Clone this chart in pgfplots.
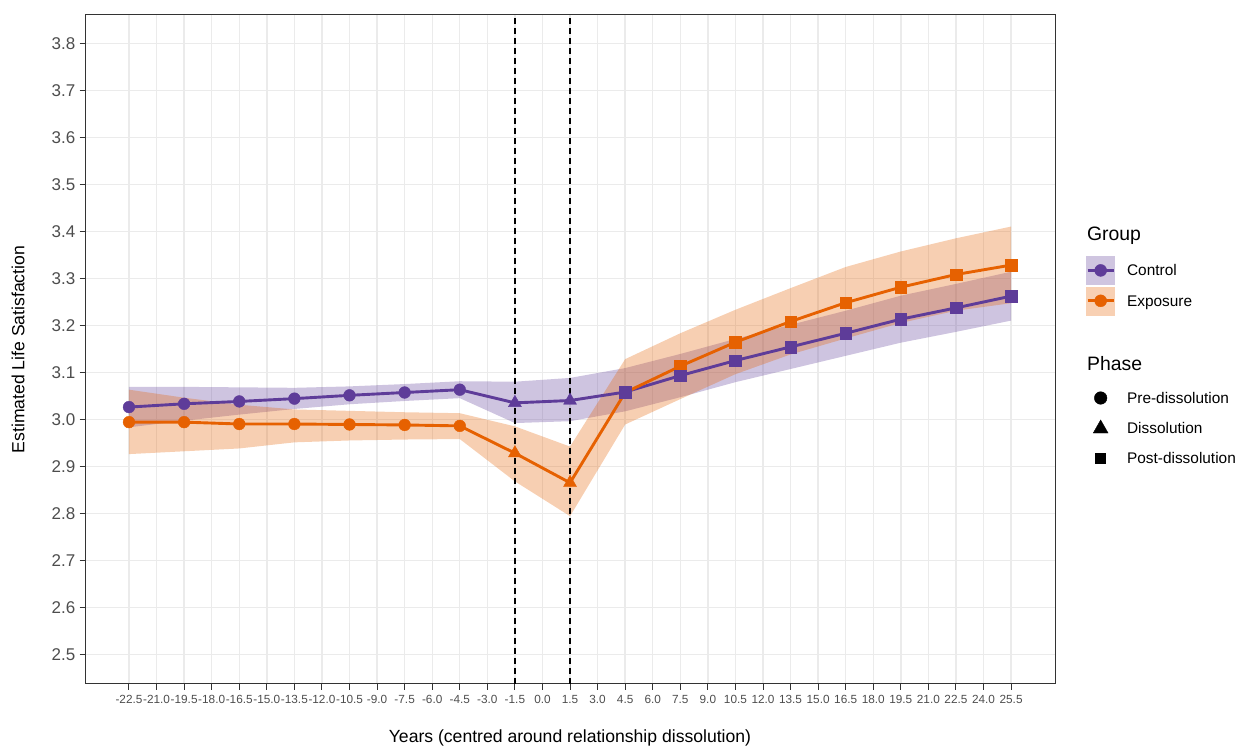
\documentclass[border=0pt]{standalone}
\usepackage{fontspec}
\setmainfont{Liberation Sans}
\usepackage{pgfplots}
\pgfplotsset{compat=1.18}
\usepackage{pgfplotstable}
\usepgfplotslibrary{fillbetween}
\definecolor{ctrl}{HTML}{5E3C99}
\definecolor{expo}{HTML}{E66101}
\definecolor{gridc}{HTML}{EBEBEB}
\definecolor{axc}{HTML}{333333}
\definecolor{tickc}{HTML}{4D4D4D}

\pgfplotstableread{
x     ctrl  clo   chi   expo  elo   ehi
-22.5 3.026 2.983 3.069 2.994 2.926 3.063
-19.5 3.033 2.997 3.069 2.994 2.932 3.046
-16.5 3.038 3.010 3.068 2.990 2.938 3.031
-13.5 3.044 3.022 3.067 2.990 2.951 3.021
-10.5 3.051 3.032 3.070 2.989 2.955 3.018
-7.5  3.057 3.039 3.075 2.988 2.957 3.015
-4.5  3.063 3.045 3.081 2.986 2.958 3.013
-1.5  3.035 2.992 3.080 2.928 2.868 2.985
1.5   3.040 2.996 3.088 2.865 2.794 2.942
4.5   3.058 3.017 3.109 3.057 2.989 3.128
7.5   3.093 3.047 3.139 3.113 3.043 3.183
10.5  3.125 3.079 3.171 3.164 3.096 3.233
13.5  3.154 3.107 3.201 3.208 3.138 3.279
16.5  3.183 3.135 3.231 3.248 3.172 3.324
19.5  3.213 3.163 3.263 3.281 3.205 3.357
22.5  3.237 3.186 3.288 3.308 3.231 3.385
25.5  3.262 3.210 3.314 3.328 3.247 3.410
}\datatable

\begin{document}
\begin{tikzpicture}[x=1pt,y=1pt]
\begin{axis}[
  at={(85pt,63pt)}, anchor=south west,
  width=970pt, height=669pt, scale only axis,
  xmin=-24.894, xmax=27.89, ymin=2.437, ymax=3.86,
  xtick={-22.5,-21,-19.5,-18,-16.5,-15,-13.5,-12,-10.5,-9,-7.5,-6,-4.5,-3,-1.5,0,1.5,3,4.5,6,7.5,9,10.5,12,13.5,15,16.5,18,19.5,21,22.5,24,25.5},
  xticklabels={-22.5,-21.0,-19.5,-18.0,-16.5,-15.0,-13.5,-12.0,-10.5,-9.0,-7.5,-6.0,-4.5,-3.0,-1.5,0.0,1.5,3.0,4.5,6.0,7.5,9.0,10.5,12.0,13.5,15.0,16.5,18.0,19.5,21.0,22.5,24.0,25.5},
  ytick={2.5,2.6,2.7,2.8,2.9,3.0,3.1,3.2,3.3,3.4,3.5,3.6,3.7,3.8},
  yticklabels={2.5,2.6,2.7,2.8,2.9,3.0,3.1,3.2,3.3,3.4,3.5,3.6,3.7,3.8},
  xtick pos=bottom, ytick pos=left,
  tick align=outside, major tick length=5.5pt,
  tick style={axc, line width=1pt},
  axis line style={axc, line width=1pt},
  grid=major, major grid style={gridc, line width=1.4pt},
  xticklabel style={font=\fontsize{11.8}{12}\selectfont, text=tickc, inner sep=0pt, yshift=-6pt},
  yticklabel style={font=\fontsize{17}{18}\selectfont, text=tickc, inner sep=0pt, xshift=-4pt},
  xlabel={Years (centred around relationship dissolution)},
  ylabel={Estimated Life Satisfaction},
  xlabel style={font=\fontsize{17.6}{18}\selectfont, at={(axis description cs:0.5,-0.0807)}, anchor=center},
  ylabel style={font=\fontsize{17.6}{18}\selectfont, at={(axis description cs:-0.0691,0.5)}, anchor=center},
  legend style={at={(axis description cs:1.03196,0.6801)}, anchor=north west, draw=none, fill=none,
    inner sep=0pt, row sep=2pt, font=\fontsize{15.4}{16}\selectfont,
    nodes={inner sep=0pt, text height=11pt, text depth=0pt},
    /tikz/every odd column/.style={column sep=12pt}},
  legend cell align=left,
]
% ribbons
\addplot[name path=chi, draw=none, forget plot] table[x=x,y=chi]{\datatable};
\addplot[name path=clo, draw=none, forget plot] table[x=x,y=clo]{\datatable};
\addplot[name path=ehi, draw=none, forget plot] table[x=x,y=ehi]{\datatable};
\addplot[name path=elo, draw=none, forget plot] table[x=x,y=elo]{\datatable};
\addplot[fill=ctrl, fill opacity=0.3, draw=none, forget plot] fill between[of=chi and clo];
\addplot[fill=expo, fill opacity=0.3, draw=none, forget plot] fill between[of=ehi and elo];
% lines
\addplot[ctrl, line width=2.9pt, forget plot] table[x=x,y=ctrl]{\datatable};
\addplot[expo, line width=2.9pt, forget plot] table[x=x,y=expo]{\datatable};
% points exposure
\addplot[only marks, mark=*, mark size=5.9pt, mark options={fill=expo, draw=expo, line width=0.4pt}, forget plot, restrict x to domain=-23:-4] table[x=x,y=expo]{\datatable};
\addplot[only marks, mark=triangle*, mark size=7.5pt, mark options={fill=expo, draw=expo, line width=0.4pt}, forget plot, restrict x to domain=-2:2] table[x=x,y=expo]{\datatable};
\addplot[only marks, mark=square*, mark size=5.8pt, mark options={fill=expo, draw=expo, line width=0.4pt}, forget plot, restrict x to domain=4:26] table[x=x,y=expo]{\datatable};
% points control
\addplot[only marks, mark=*, mark size=5.9pt, mark options={fill=ctrl, draw=ctrl, line width=0.4pt}, forget plot, restrict x to domain=-23:-4] table[x=x,y=ctrl]{\datatable};
\addplot[only marks, mark=triangle*, mark size=7.5pt, mark options={fill=ctrl, draw=ctrl, line width=0.4pt}, forget plot, restrict x to domain=-2:2] table[x=x,y=ctrl]{\datatable};
\addplot[only marks, mark=square*, mark size=5.8pt, mark options={fill=ctrl, draw=ctrl, line width=0.4pt}, forget plot, restrict x to domain=4:26] table[x=x,y=ctrl]{\datatable};
% vertical dashed lines
\addplot[black, line width=1.2pt, dash pattern=on 6pt off 4pt, forget plot] coordinates {(-1.5,2.437) (-1.5,3.86)};
\addplot[black, line width=1.2pt, dash pattern=on 6pt off 4pt, forget plot] coordinates {(1.5,2.437) (1.5,3.86)};
% legend
\addlegendimage{legend image code/.code={\path[draw=none,fill=none] (0pt,-19pt) -- (0pt,6pt);}}
\addlegendentry{\hspace*{-40pt}\fontsize{19.4}{20}\selectfont Group}
\addlegendimage{legend image code/.code={\fill[ctrl!30] (0pt,-14pt) rectangle (28pt,14pt); \draw[ctrl,line width=2.9pt] (1pt,0pt) -- (27pt,0pt); \fill[ctrl] (14pt,0pt) circle (6pt);}}
\addlegendentry{Control}
\addlegendimage{legend image code/.code={\fill[expo!30] (0pt,-14pt) rectangle (28pt,14pt); \draw[expo,line width=2.9pt] (1pt,0pt) -- (27pt,0pt); \fill[expo] (14pt,0pt) circle (6pt);}}
\addlegendentry{Exposure}
\addlegendimage{legend image code/.code={\path[draw=none,fill=none] (0pt,-17pt) -- (0pt,48pt);}}
\addlegendentry{\hspace*{-40pt}\fontsize{19.4}{20}\selectfont Phase}
\addlegendimage{legend image code/.code={\path[draw=none,fill=none] (0pt,-14pt) rectangle (28pt,14pt); \fill[black] (14pt,0pt) circle (6.3pt);}}
\addlegendentry{Pre-dissolution}
\addlegendimage{legend image code/.code={\path[draw=none,fill=none] (0pt,-14pt) rectangle (28pt,14pt); \fill[black] (14pt,8pt) -- (6.6pt,-5pt) -- (21.4pt,-5pt) -- cycle;}}
\addlegendentry{Dissolution}
\addlegendimage{legend image code/.code={\path[draw=none,fill=none] (0pt,-14pt) rectangle (28pt,14pt); \fill[black] (9pt,-5pt) rectangle (19pt,5pt);}}
\addlegendentry{Post-dissolution}
\end{axis}
\pgfresetboundingbox
\useasboundingbox (0,0) rectangle (1245,747);
\end{tikzpicture}
\end{document}
